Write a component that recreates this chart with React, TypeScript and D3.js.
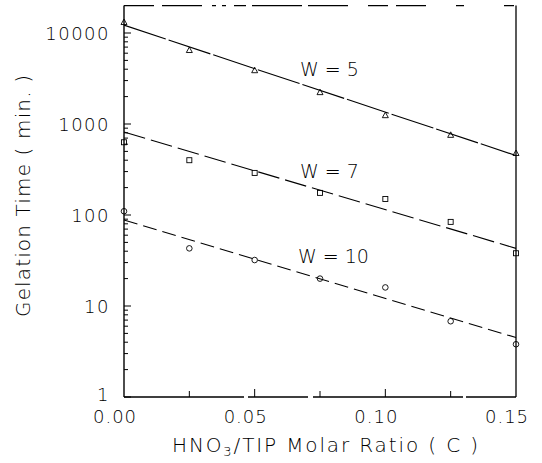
import React from "react";
import * as d3 from "d3";

const ratios = [0, 0.025, 0.05, 0.075, 0.1, 0.125, 0.15];
const w5Values = [13200, 6500, 3900, 2240, 1250, 760, 480];
const w7Values = [630, 400, 290, 175, 150, 84, 38];
const w10Values = [110, 43, 32, 20, 16, 6.8, 3.8];
const w5Fit = [12200, 450];
const w7Fit = [815, 43];
const w10Fit = [88, 4.5];
const fitX = [0, 0.15];
const yTicks = [1, 10, 100, 1000, 10000];
const yTickLabels = ["1", "10", "100", "1000", "10000"];
const xTicks = [0, 0.05, 0.1, 0.15];
const xTickLabels = ["0.00", "0.05", "0.10", "0.15"];
const xMinorTicks = [0.025, 0.05, 0.075, 0.1, 0.125];
const seriesLabels = ["W = 5", "W = 7", "W = 10"];

const W = 542;
const H = 463;
const FONT = "'DejaVu Sans', 'Liberation Sans', Arial, sans-serif";
const WEIGHT = 200;

export default function App() {
  const x = d3.scaleLinear().domain([0, 0.15]).range([124, 516]);
  const y = d3.scaleLog().domain([1, 20000]).range([397, 397 - 91 * Math.log10(20000)]);
  const top = y(20000);
  const line = d3
    .line<[number, number]>()
    .x((d) => x(d[0]))
    .y((d) => y(d[1]));

  const minorY: number[] = [];
  for (let dec = 1; dec <= 10000; dec *= 10) {
    for (let m = 2; m <= 9; m++) {
      const v = dec * m;
      if (v < 20000) minorY.push(v);
    }
  }

  const fits = [
    { vals: w5Fit, dash: "44,3" },
    { vals: w7Fit, dash: "22,6" },
    { vals: w10Fit, dash: "14,6" },
  ];
  const labelPos = [
    { x: 300, y: 76 },
    { x: 300, y: 178 },
    { x: 298, y: 263 },
  ];

  const tri = (cx: number, cy: number) =>
    `M${cx},${cy - 3} L${cx + 3},${cy + 2.5} L${cx - 3},${cy + 2.5} Z`;

  return (
    <svg
      width={W}
      height={H}
      style={{ position: "absolute", left: 0, top: 0, background: "#fff" }}
      fontFamily={FONT}
      fontWeight={WEIGHT}
    >
      <rect x={0} y={0} width={W} height={H} fill="#fff" />
      {/* frame */}
      <line x1={124} y1={top} x2={124} y2={397} stroke="#000" strokeWidth={1.4} />
      <line x1={124} y1={397} x2={516} y2={397} stroke="#000" strokeWidth={1.3} strokeDasharray="120,4,60,5,150,3,60" />
      <line x1={124} y1={top} x2={516} y2={top} stroke="#000" strokeWidth={1.2} strokeDasharray="30,8,40,10,4,6,4,8,12,6,50,6,40,20,20,8,30" />
      <line x1={516} y1={top} x2={516} y2={397} stroke="#000" strokeWidth={1.3} />

      {/* y ticks */}
      {yTicks.map((t) => (
        <line key={"ym" + t} x1={124} x2={131} y1={y(t)} y2={y(t)} stroke="#000" strokeWidth={1} />
      ))}
      {minorY.map((t) => (
        <line key={"yn" + t} x1={124} x2={128} y1={y(t)} y2={y(t)} stroke="#000" strokeWidth={1} />
      ))}
      {yTicks.map((t, i) => (
        <text
          key={"yl" + t}
          x={110}
          y={y(t) - (t === 1 ? 3 : 0)}
          textAnchor="end"
          dominantBaseline="central"
          fontSize={18}
          letterSpacing={1.5}
          fill="#000"
        >
          {yTickLabels[i]}
        </text>
      ))}

      {/* x ticks */}
      {xMinorTicks.map((t) => (
        <line key={"xt" + t} x1={x(t)} x2={x(t)} y1={397} y2={t === 0.05 || t === 0.1 ? 389 : 391} stroke="#000" strokeWidth={1} />
      ))}
      {xTicks.map((t, i) => (
        <text
          key={"xl" + t}
          x={x(t) - 9}
          y={416}
          textAnchor="middle"
          dominantBaseline="central"
          fontSize={18}
          letterSpacing={1}
          fill="#000"
        >
          {xTickLabels[i]}
        </text>
      ))}

      {/* fitted lines */}
      {fits.map((f, i) => (
        <path
          key={"fit" + i}
          d={line(fitX.map((xv, j) => [xv, f.vals[j]] as [number, number])) || ""}
          fill="none"
          stroke="#000"
          strokeWidth={1.1}
          strokeDasharray={f.dash}
        />
      ))}

      {/* markers */}
      {ratios.map((r, i) => (
        <path key={"t" + i} d={tri(x(r), y(w5Values[i]))} fill="none" stroke="#000" strokeWidth={0.9} />
      ))}
      {ratios.map((r, i) => (
        <rect
          key={"s" + i}
          x={x(r) - 2.5}
          y={y(w7Values[i]) - 2.5}
          width={5}
          height={5}
          fill="none"
          stroke="#000"
          strokeWidth={0.9}
        />
      ))}
      {ratios.map((r, i) => (
        <circle key={"c" + i} cx={x(r)} cy={y(w10Values[i])} r={2.8} fill="none" stroke="#000" strokeWidth={0.9} />
      ))}

      {/* series labels */}
      {seriesLabels.map((s, i) => (
        <text key={"sl" + i} x={labelPos[i].x} y={labelPos[i].y} fontSize={19} fill="#000">
          {s}
        </text>
      ))}

      {/* axis titles */}
      <text
        transform={`translate(30,196) rotate(-90)`}
        textAnchor="middle"
        fontSize={20}
        fill="#000"
        textLength={242}
        lengthAdjust="spacing"
      >
        Gelation Time ( min. )
      </text>
      <text x={172} y={452} fontSize={20} fill="#000" textLength={306} lengthAdjust="spacing">
        HNO<tspan fontSize={13} dy={4}>3</tspan>
        <tspan dy={-4}>/TIP Molar Ratio ( C )</tspan>
      </text>
    </svg>
  );
}
